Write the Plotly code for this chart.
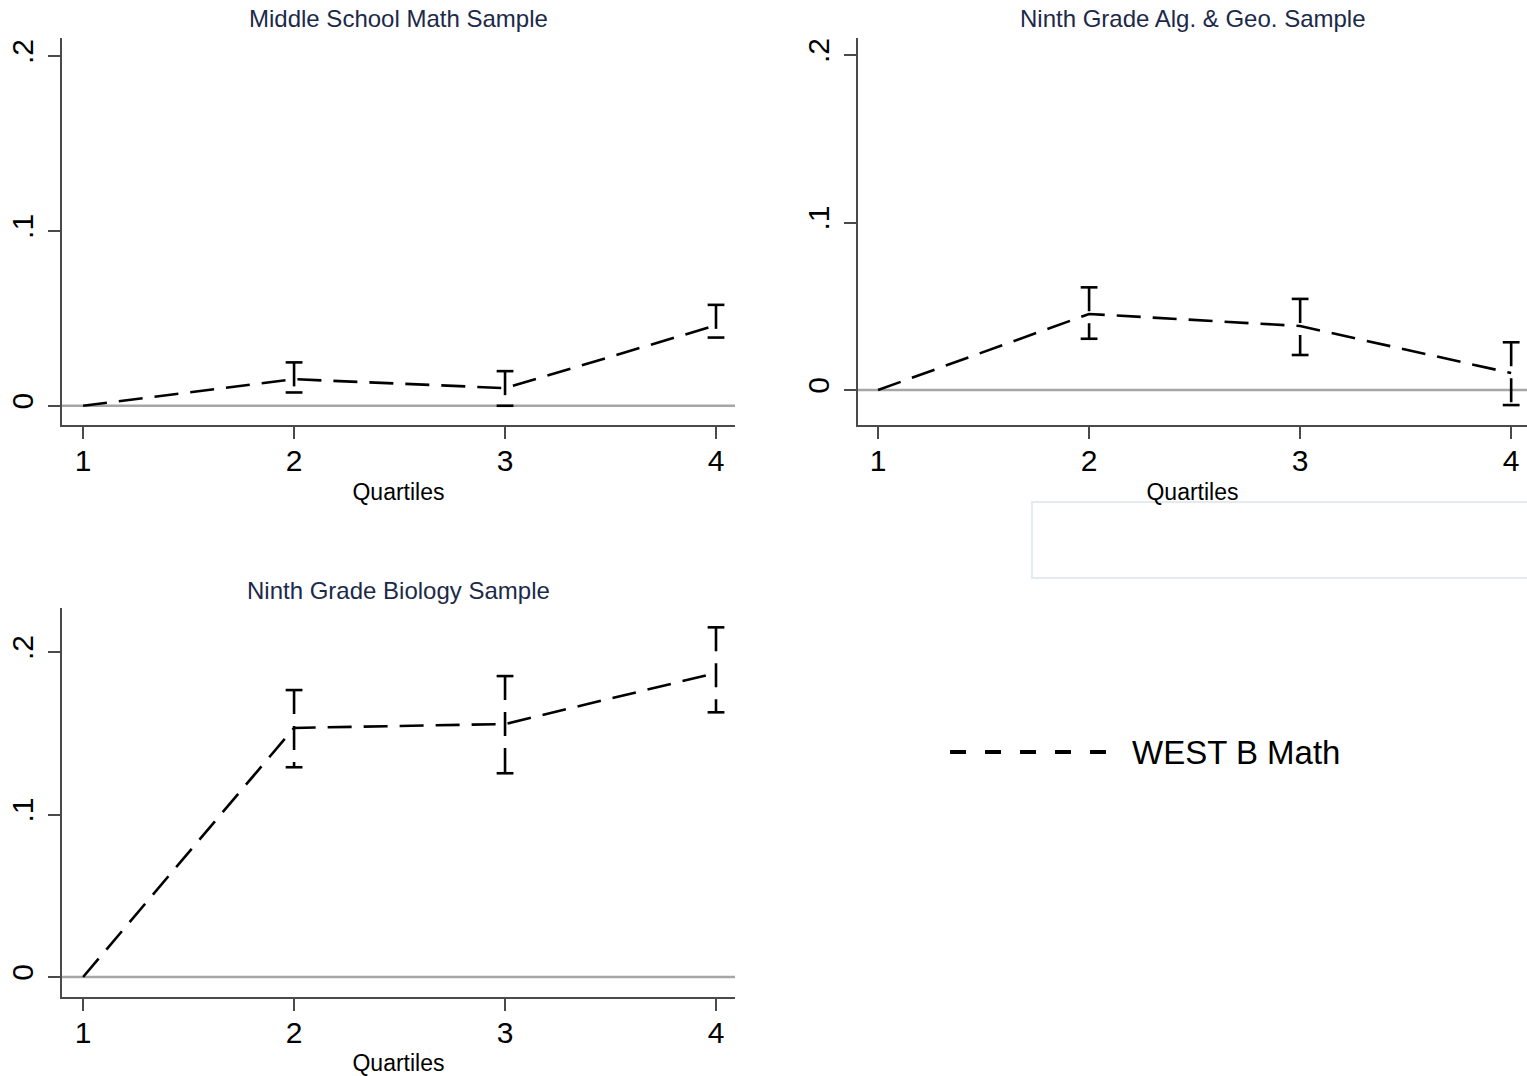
import plotly.graph_objects as go

# ---------------- data ----------------
quartiles = [1, 2, 3, 4]

panel_titles = ["Middle School Math Sample",
                "Ninth Grade Alg. & Geo. Sample",
                "Ninth Grade Biology Sample"]

ms_est = [0.0, 0.0152, 0.0101, 0.0460]
ms_lo = [None, 0.0076, 0.0000, 0.0390]
ms_hi = [None, 0.0248, 0.0198, 0.0577]

alg_est = [0.0, 0.0454, 0.0382, 0.0101]
alg_lo = [None, 0.0306, 0.0209, -0.0090]
alg_hi = [None, 0.0613, 0.0544, 0.0285]

bio_est = [0.0, 0.1533, 0.1557, 0.1871]
bio_lo = [None, 0.1291, 0.1254, 0.1629]
bio_hi = [None, 0.1766, 0.1852, 0.2152]

y_ticks = [0, 0.1, 0.2]
y_tick_labels = ["0", ".1", ".2"]
x_tick_labels = ["1", "2", "3", "4"]
series_name = "WEST B Math"
x_title = "Quartiles"
ref_value = 0

# ---------------- style ----------------
W, H = 1527, 1076
FONT = "Liberation Sans, Arial, sans-serif"
DASH = "24px,12px"
LW = 2.6
AXIS_COL = "#4a4a4a"
TITLE_COL = "#1c2a4a"

panels = [
    dict(est=ms_est, lo=ms_lo, hi=ms_hi, xs="x", ys="y",
         dom_x=(62, 735), dom_y=(38, 425), yr=(-0.0110, 0.2103), xr=(0.90, 4.09), title_y=18),
    dict(est=alg_est, lo=alg_lo, hi=alg_hi, xs="x2", ys="y2",
         dom_x=(858, 1527), dom_y=(38, 425), yr=(-0.0209, 0.2102), xr=(0.905, 4.075), title_y=18),
    dict(est=bio_est, lo=bio_lo, hi=bio_hi, xs="x3", ys="y3",
         dom_x=(62, 735), dom_y=(608, 997), yr=(-0.0123, 0.2271), xr=(0.90, 4.09), title_y=590),
]

fig = go.Figure()
layout = dict(
    width=W, height=H,
    margin=dict(l=0, r=0, t=0, b=0),
    paper_bgcolor="white", plot_bgcolor="white",
    showlegend=False,
    font=dict(family=FONT, color="black"),
    shapes=[], annotations=[],
)

for i, p in enumerate(panels):
    # CI spikes (dashed) + caps
    ci_x, ci_y, cap_x, cap_y = [], [], [], []
    for q, lo, hi in zip(quartiles, p["lo"], p["hi"]):
        if lo is None:
            continue
        ci_x += [q, q, None]
        ci_y += [hi, lo, None]
        cap_x += [q, q]
        cap_y += [hi, lo]
    fig.add_trace(go.Scatter(x=ci_x, y=ci_y, mode="lines", xaxis=p["xs"], yaxis=p["ys"],
                             line=dict(color="black", width=LW, dash=DASH),
                             hoverinfo="skip", showlegend=False))
    fig.add_trace(go.Scatter(x=cap_x, y=cap_y, mode="markers", xaxis=p["xs"], yaxis=p["ys"],
                             marker=dict(symbol="line-ew", size=12, color="black",
                                         line=dict(color="black", width=LW)),
                             hoverinfo="skip", showlegend=False))
    # point estimates line
    fig.add_trace(go.Scatter(x=quartiles, y=p["est"], mode="lines", xaxis=p["xs"], yaxis=p["ys"],
                             name=series_name,
                             line=dict(color="black", width=LW, dash=DASH),
                             showlegend=False))

    sfx = "" if i == 0 else str(i + 1)
    x0, x1 = p["dom_x"]
    y0, y1 = p["dom_y"]
    layout["xaxis" + sfx] = dict(
        domain=[x0 / W, x1 / W], anchor="y" + sfx, range=list(p["xr"]),
        tickmode="array", tickvals=quartiles, ticktext=x_tick_labels,
        ticks="outside", ticklen=12, tickwidth=1.5, tickcolor=AXIS_COL,
        showline=True, linecolor=AXIS_COL, linewidth=2, mirror=False,
        showgrid=False, zeroline=False, ticklabelstandoff=-4,
        tickfont=dict(size=30, color="black"),
        title=dict(text=x_title, font=dict(size=23, color="black"), standoff=8),
    )
    layout["yaxis" + sfx] = dict(
        domain=[1 - y1 / H, 1 - y0 / H], anchor="x" + sfx, range=list(p["yr"]),
        tickmode="array", tickvals=y_ticks, ticktext=y_tick_labels,
        ticks="outside", ticklen=12, tickwidth=1.5, tickcolor=AXIS_COL,
        showline=True, linecolor=AXIS_COL, linewidth=2, mirror=False,
        showgrid=False, zeroline=False, tickangle=-90, ticklabelstandoff=3,
        tickfont=dict(size=30, color="black"),
    )
    # reference line at zero
    layout["shapes"].append(dict(type="line", xref="x" + sfx + " domain", x0=0, x1=1,
                                 yref="y" + sfx, y0=ref_value, y1=ref_value, layer="below",
                                 line=dict(color="#a6a6a6", width=2.5)))
    # panel title
    layout["annotations"].append(dict(text=panel_titles[i], xref="paper", yref="paper",
                                      x=(x0 + x1) / 2 / W, y=1 - p["title_y"] / H,
                                      xanchor="center", yanchor="middle", showarrow=False,
                                      font=dict(size=24, color=TITLE_COL, family=FONT)))

# faint empty box (Stata legend region artefact)
layout["shapes"].append(dict(type="rect", xref="paper", yref="paper",
                             x0=1032 / W, x1=1530 / W, y0=1 - 578 / H, y1=1 - 502 / H,
                             line=dict(color="#e3ebef", width=2), fillcolor="rgba(0,0,0,0)"))

# legend (key + label)
layout["shapes"].append(dict(type="line", xref="paper", yref="paper",
                             x0=950 / W, x1=1106 / W, y0=1 - 752 / H, y1=1 - 752 / H,
                             line=dict(color="black", width=4, dash="16px,19px")))
layout["annotations"].append(dict(text=series_name, xref="paper", yref="paper",
                                  x=1130 / W, y=1 - 752 / H, xanchor="left", yanchor="middle",
                                  showarrow=False, font=dict(size=33, color="black", family=FONT)))

fig.update_layout(**layout)
fig.write_html("out.html", config={"displayModeBar": False},
               post_script="document.body.style.margin='0';document.body.style.overflow='hidden';")
